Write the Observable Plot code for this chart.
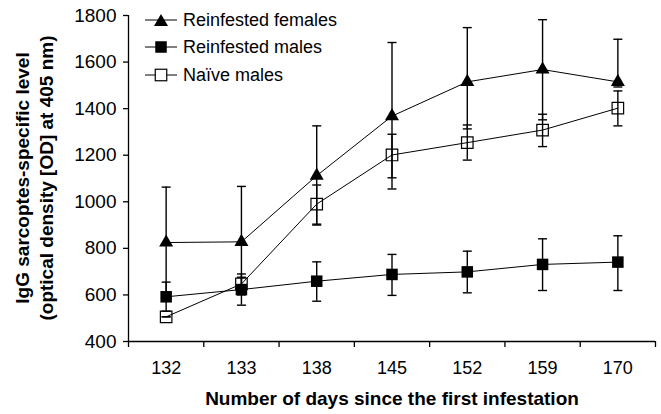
<!DOCTYPE html>
<html>
<head>
<meta charset="utf-8">
<script src="https://cdn.jsdelivr.net/npm/d3@7"></script>
<script src="https://cdn.jsdelivr.net/npm/@observablehq/plot@0.6"></script>
<style>
  html, body { margin: 0; padding: 0; background: #fff; }
  #wrap { position: relative; width: 661px; height: 414px; font-family: "Liberation Sans", Arial, sans-serif; color: #000; }
  .leg { position: absolute; left: 145px; height: 20px; display: flex; align-items: center; font-size: 18px; white-space: nowrap; }
  .leg svg { margin-right: 6px; overflow: visible; }
  #ytitle { position: absolute; left: 35px; top: 178px; width: 340px; transform: translate(-50%, -50%) rotate(-90deg);
            text-align: center; font-weight: bold; font-size: 19px; line-height: 24px; white-space: nowrap; }
</style>
</head>
<body>
<div id="wrap"></div>
<script>
// ---- data ----
const days = ["132", "133", "138", "145", "152", "159", "170"];
const seriesNames = ["Reinfested females", "Reinfested males", "Naïve males"];

const femalesMean = [825, 828, 1112, 1368, 1515, 1568, 1515];
const femalesHi   = [1063, 1066, 1326, 1684, 1748, 1782, 1698];
const femalesLo   = [590, 600, 900, 1055, 1313, 1352, 1493];

const malesMean = [592, 623, 659, 688, 699, 731, 741];
const malesHi   = [655, 690, 742, 774, 788, 841, 854];
const malesLo   = [530, 556, 573, 598, 609, 619, 619];

const naiveMean = [506, 647, 990, 1201, 1254, 1308, 1402];
const naiveHi   = [506, 676, 1072, 1290, 1330, 1376, 1476];
const naiveLo   = [506, 618, 904, 1103, 1179, 1237, 1326];

const yTicks = [400, 600, 800, 1000, 1200, 1400, 1600, 1800];
const xTitle = "Number of days since the first infestation";
const yTitleLines = ["IgG sarcoptes-specific level", "(optical density [OD] at 405 nm)"];

// ---- build table ----
function rows(name, mean, lo, hi) {
  return days.map((d, i) => ({series: name, i, day: d, v: mean[i], lo: lo[i], hi: hi[i]}));
}
const females = rows(seriesNames[0], femalesMean, femalesLo, femalesHi);
const males = rows(seriesNames[1], malesMean, malesLo, malesHi);
const naive = rows(seriesNames[2], naiveMean, naiveLo, naiveHi);
const all = [...females, ...males, ...naive];
const idx = days.map((d, i) => i);
const bounds = d3.range(-0.5, days.length, 1);

// horizontal cap symbol
const capSymbol = {
  draw(ctx, size) {
    const r = Math.sqrt(size / Math.PI);
    ctx.moveTo(-r, 0);
    ctx.lineTo(r, 0);
  }
};

const font = '"Liberation Sans", Arial, sans-serif';

const chart = Plot.plot({
  width: 661,
  height: 414,
  marginLeft: 128,
  marginRight: 6,
  marginTop: 15,
  marginBottom: 73,
  style: {fontFamily: font, fontSize: "18px", color: "#000", background: "#fff", overflow: "visible"},
  x: {type: "linear", domain: [-0.5, days.length - 0.5]},
  y: {type: "linear", domain: [400, 1800]},
  marks: [
    Plot.ruleY([400], {stroke: "#000", strokeWidth: 1.3}),
    Plot.ruleX([-0.5], {stroke: "#000", strokeWidth: 1.3}),
    Plot.axisX({ticks: bounds, tickSize: 6, tickFormat: () => "", label: null, strokeWidth: 1.3}),
    Plot.axisX({ticks: idx, tickSize: 0, tickPadding: 20, tickFormat: i => days[i], label: null, fontSize: 18}),
    Plot.axisY({ticks: yTicks, tickSize: 5, tickPadding: 7, tickFormat: d => String(d), label: null, fontSize: 19, strokeWidth: 1.3}),
    Plot.line(all, {x: "i", y: "v", z: "series", stroke: "#000", strokeWidth: 1}),
    Plot.ruleX(all, {x: "i", y1: "lo", y2: "hi", stroke: "#000", strokeWidth: 1.4}),
    Plot.dot(all, {x: "i", y: "hi", symbol: capSymbol, r: 4.5, stroke: "#000", strokeWidth: 1.4}),
    Plot.dot(all, {x: "i", y: "lo", symbol: capSymbol, r: 4.5, stroke: "#000", strokeWidth: 1.4}),
    Plot.dot(naive, {x: "i", y: "v", symbol: "square", r: 6.5, stroke: "#000", strokeWidth: 1.2, fill: "none"}),
    Plot.dot(males, {x: "i", y: "v", symbol: "square", r: 6.5, fill: "#000", stroke: "none"}),
    Plot.dot(females, {x: "i", y: "v", symbol: "triangle", r: 5.2, fill: "#000", stroke: "none"}),
    Plot.text([xTitle], {frameAnchor: "bottom", dy: 57, fontSize: 19, fontWeight: "bold", lineAnchor: "middle", fill: "#000"})
  ]
});

const wrap = document.getElementById("wrap");
wrap.appendChild(chart);

// y-axis title (two lines, rotated)
const yt = document.createElement("div");
yt.id = "ytitle";
yt.innerHTML = yTitleLines.map(s => `<div>${s}</div>`).join("");
wrap.appendChild(yt);

// legend (HTML overlay inside plot area)
const legendTops = [10, 37, 65];
const legendMarkers = [
  '<path d="M16,4 L23,16 L9,16 Z" fill="#000"/>',
  '<rect x="10.25" y="4.25" width="11.5" height="11.5" fill="#000"/>',
  '<rect x="10.25" y="4.25" width="11.5" height="11.5" fill="#fff" stroke="#000" stroke-width="1.2"/>'
];
seriesNames.forEach((name, k) => {
  const div = document.createElement("div");
  div.className = "leg";
  div.style.top = legendTops[k] + "px";
  div.innerHTML = `<svg width="32" height="20"><line x1="0" y1="10" x2="32" y2="10" stroke="#000" stroke-width="1"/>${legendMarkers[k]}</svg><span>${name}</span>`;
  wrap.appendChild(div);
});
</script>
</body>
</html>
